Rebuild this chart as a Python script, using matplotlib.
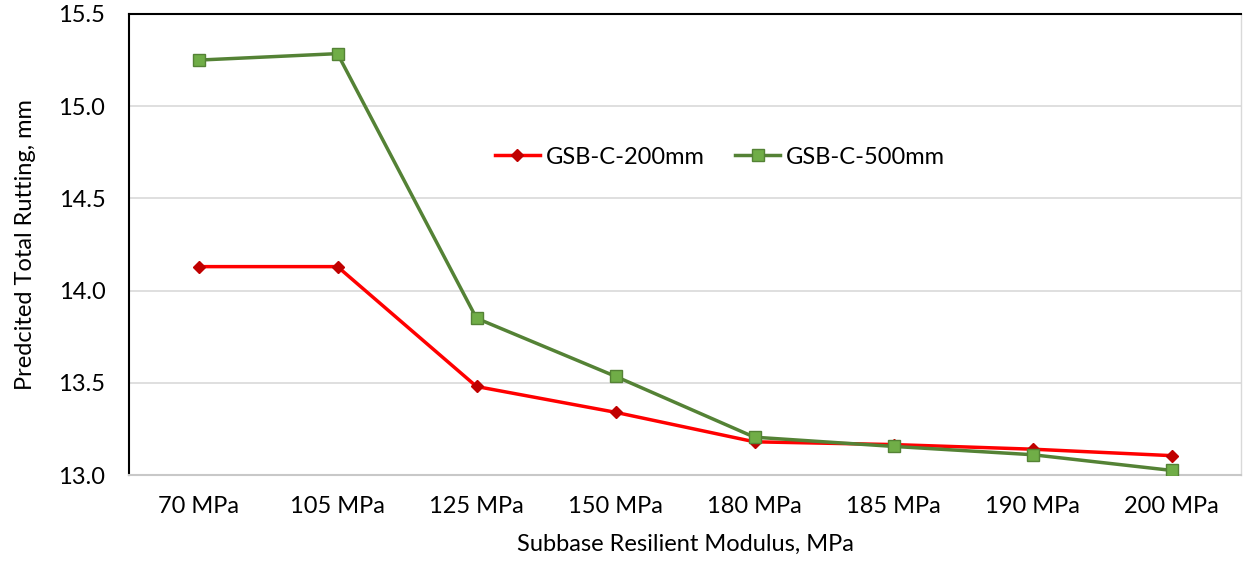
import matplotlib
matplotlib.use("Agg")
import matplotlib.pyplot as plt

categories = ["70 MPa", "105 MPa", "125 MPa", "150 MPa", "180 MPa", "185 MPa", "190 MPa", "200 MPa"]
gsb_200 = [14.13, 14.13, 13.48, 13.34, 13.18, 13.165, 13.14, 13.105]
gsb_500 = [15.25, 15.285, 13.85, 13.535, 13.205, 13.155, 13.11, 13.025]
yticks = [13.0, 13.5, 14.0, 14.5, 15.0, 15.5]

plt.rcParams['font.family'] = ['Lato', 'DejaVu Sans']
FS = 17

fig = plt.figure(figsize=(12.45, 5.61), dpi=100)
ax = fig.add_axes([129/1245, 1 - 475/561, (1241-129)/1245, (475-14)/561])

x = list(range(len(categories)))
ax.plot(x, gsb_200, color='#ff0000', lw=2.5, marker='D', ms=6.5,
        markerfacecolor='#c00000', markeredgecolor='#c00000', label='GSB-C-200mm', zorder=3)
ax.plot(x, gsb_500, color='#548235', lw=2.5, marker='s', ms=8,
        markerfacecolor='#70ad47', markeredgecolor='#548235', markeredgewidth=1, label='GSB-C-500mm', zorder=4)

ax.set_xlim(-0.5, len(categories) - 0.5)
ax.set_ylim(13.0, 15.5)
ax.set_yticks(yticks)
ax.set_yticklabels([f"{v:.1f}" for v in yticks])
ax.set_xticks(x)
ax.set_xticklabels(categories)
ax.tick_params(axis='both', length=0, labelsize=FS, colors='black')
ax.tick_params(axis='x', pad=15)
ax.tick_params(axis='y', pad=17)
ax.grid(axis='y', color='#d9d9d9', lw=1.2)
ax.set_axisbelow(True)

for s in ['left', 'top']:
    ax.spines[s].set_color('black')
    ax.spines[s].set_linewidth(1.5)
ax.spines['bottom'].set_color('#c8c8c8')
ax.spines['bottom'].set_linewidth(1.5)
ax.spines['right'].set_color('#d9d9d9')
ax.spines['right'].set_linewidth(1.0)

ax.set_xlabel('Subbase Resilient Modulus, MPa', fontsize=FS, labelpad=12)
ax.set_ylabel('Predcited Total Rutting, mm', fontsize=FS, labelpad=16)

ax.legend(loc='center', bbox_to_anchor=((720-129)/1112, (475-157)/461), ncol=2, frameon=False,
          fontsize=FS, handlelength=1.9, columnspacing=1.3, handletextpad=0.25)

fig.savefig('out.png', dpi=100)
